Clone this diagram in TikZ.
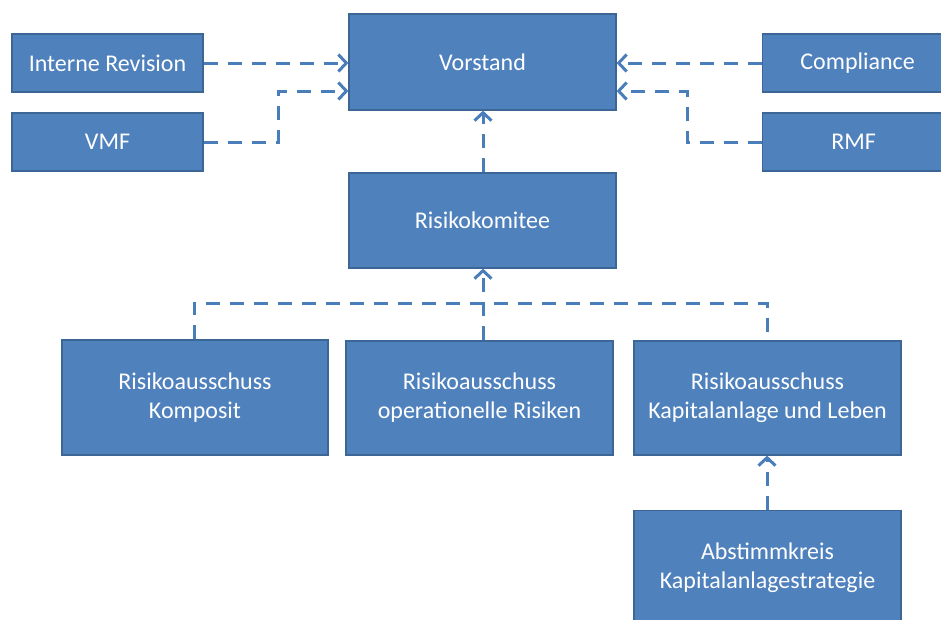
\documentclass[tikz,border=0pt]{standalone}
\usepackage{fontspec}
\setmainfont{Carlito}
\usetikzlibrary{arrows.meta}
\definecolor{boxfill}{HTML}{4F81BD}
\definecolor{boxdraw}{HTML}{3C6696}
\definecolor{linec}{HTML}{4A7EBB}
\begin{document}
\begin{tikzpicture}[x=1pt,y=-1pt,
  box/.style={draw=boxdraw,line width=1.2pt,fill=boxfill,text=white,align=center,
    font=\fontsize{24}{29}\selectfont,inner sep=0pt},
  conn/.style={draw=linec,line width=3pt,dash pattern=on 14pt off 10pt},
  arr/.style={conn,-{Straight Barb[length=8pt,width=17pt,line width=3pt]}}]
\useasboundingbox (0,0) rectangle (941,619);
\clip (0,0) rectangle (941,619);
\node[box,minimum width=191pt,minimum height=58pt] (ir) at (107.5,63) {Interne Revision};
\node[box,minimum width=191pt,minimum height=58pt] (vmf) at (107.5,142) {VMF};
\node[box,minimum width=267pt,minimum height=96pt] (vor) at (482.5,62) {Vorstand};
\node[box,minimum width=200pt,minimum height=58pt,anchor=west] (comp) at (762,63) {\hspace*{-10pt}Compliance};
\node[box,minimum width=200pt,minimum height=58pt,anchor=west] (rmf) at (762,142) {\hspace*{-18pt}RMF};
\node[box,minimum width=267pt,minimum height=95pt] (rk) at (482.5,220.5) {Risikokomitee};
\node[box,minimum width=266pt,minimum height=115pt] (ra1) at (195,397.5) {Risikoausschuss\\Komposit};
\node[box,minimum width=267pt,minimum height=114pt] (ra2) at (479.5,398) {Risikoausschuss\\operationelle Risiken};
\node[box,minimum width=267pt,minimum height=114pt] (ra3) at (767.5,398) {Risikoausschuss\\Kapitalanlage und Leben};
\node[box,minimum width=267pt,minimum height=115pt,anchor=north] (ak) at (767.5,510) {Abstimmkreis\\Kapitalanlagestrategie};
\coordinate (vmfc) at (278,142);
\coordinate (vmfu) at (278,91);
\coordinate (rmfc) at (687,142);
\coordinate (rmfu) at (687,91);
\coordinate (busl) at (194,303);
\coordinate (busr) at (767,303);
\coordinate (busm) at (483,303);
\draw[arr] (ir.east) -- (ir.east -| vor.west);
\draw[arr] (vmf.east) -- (vmfc) -- (vmfu) -- (vmfu -| vor.west);
\draw[arr] (comp.west) -- (comp.west -| vor.east);
\draw[arr] (rmf.west) -- (rmfc) -- (rmfu) -- (rmfu -| vor.east);
\draw[arr] (rk.north -| 483,0) -- (vor.south -| 483,0);
\draw[conn] (ra1.north -| busl) -- (busl) -- (busr) -- (ra3.north -| busr);
\draw[arr] (ra2.north -| busm) -- (rk.south -| busm);
\draw[arr] (ak.north -| busr) -- (ra3.south -| busr);
\end{tikzpicture}
\end{document}
